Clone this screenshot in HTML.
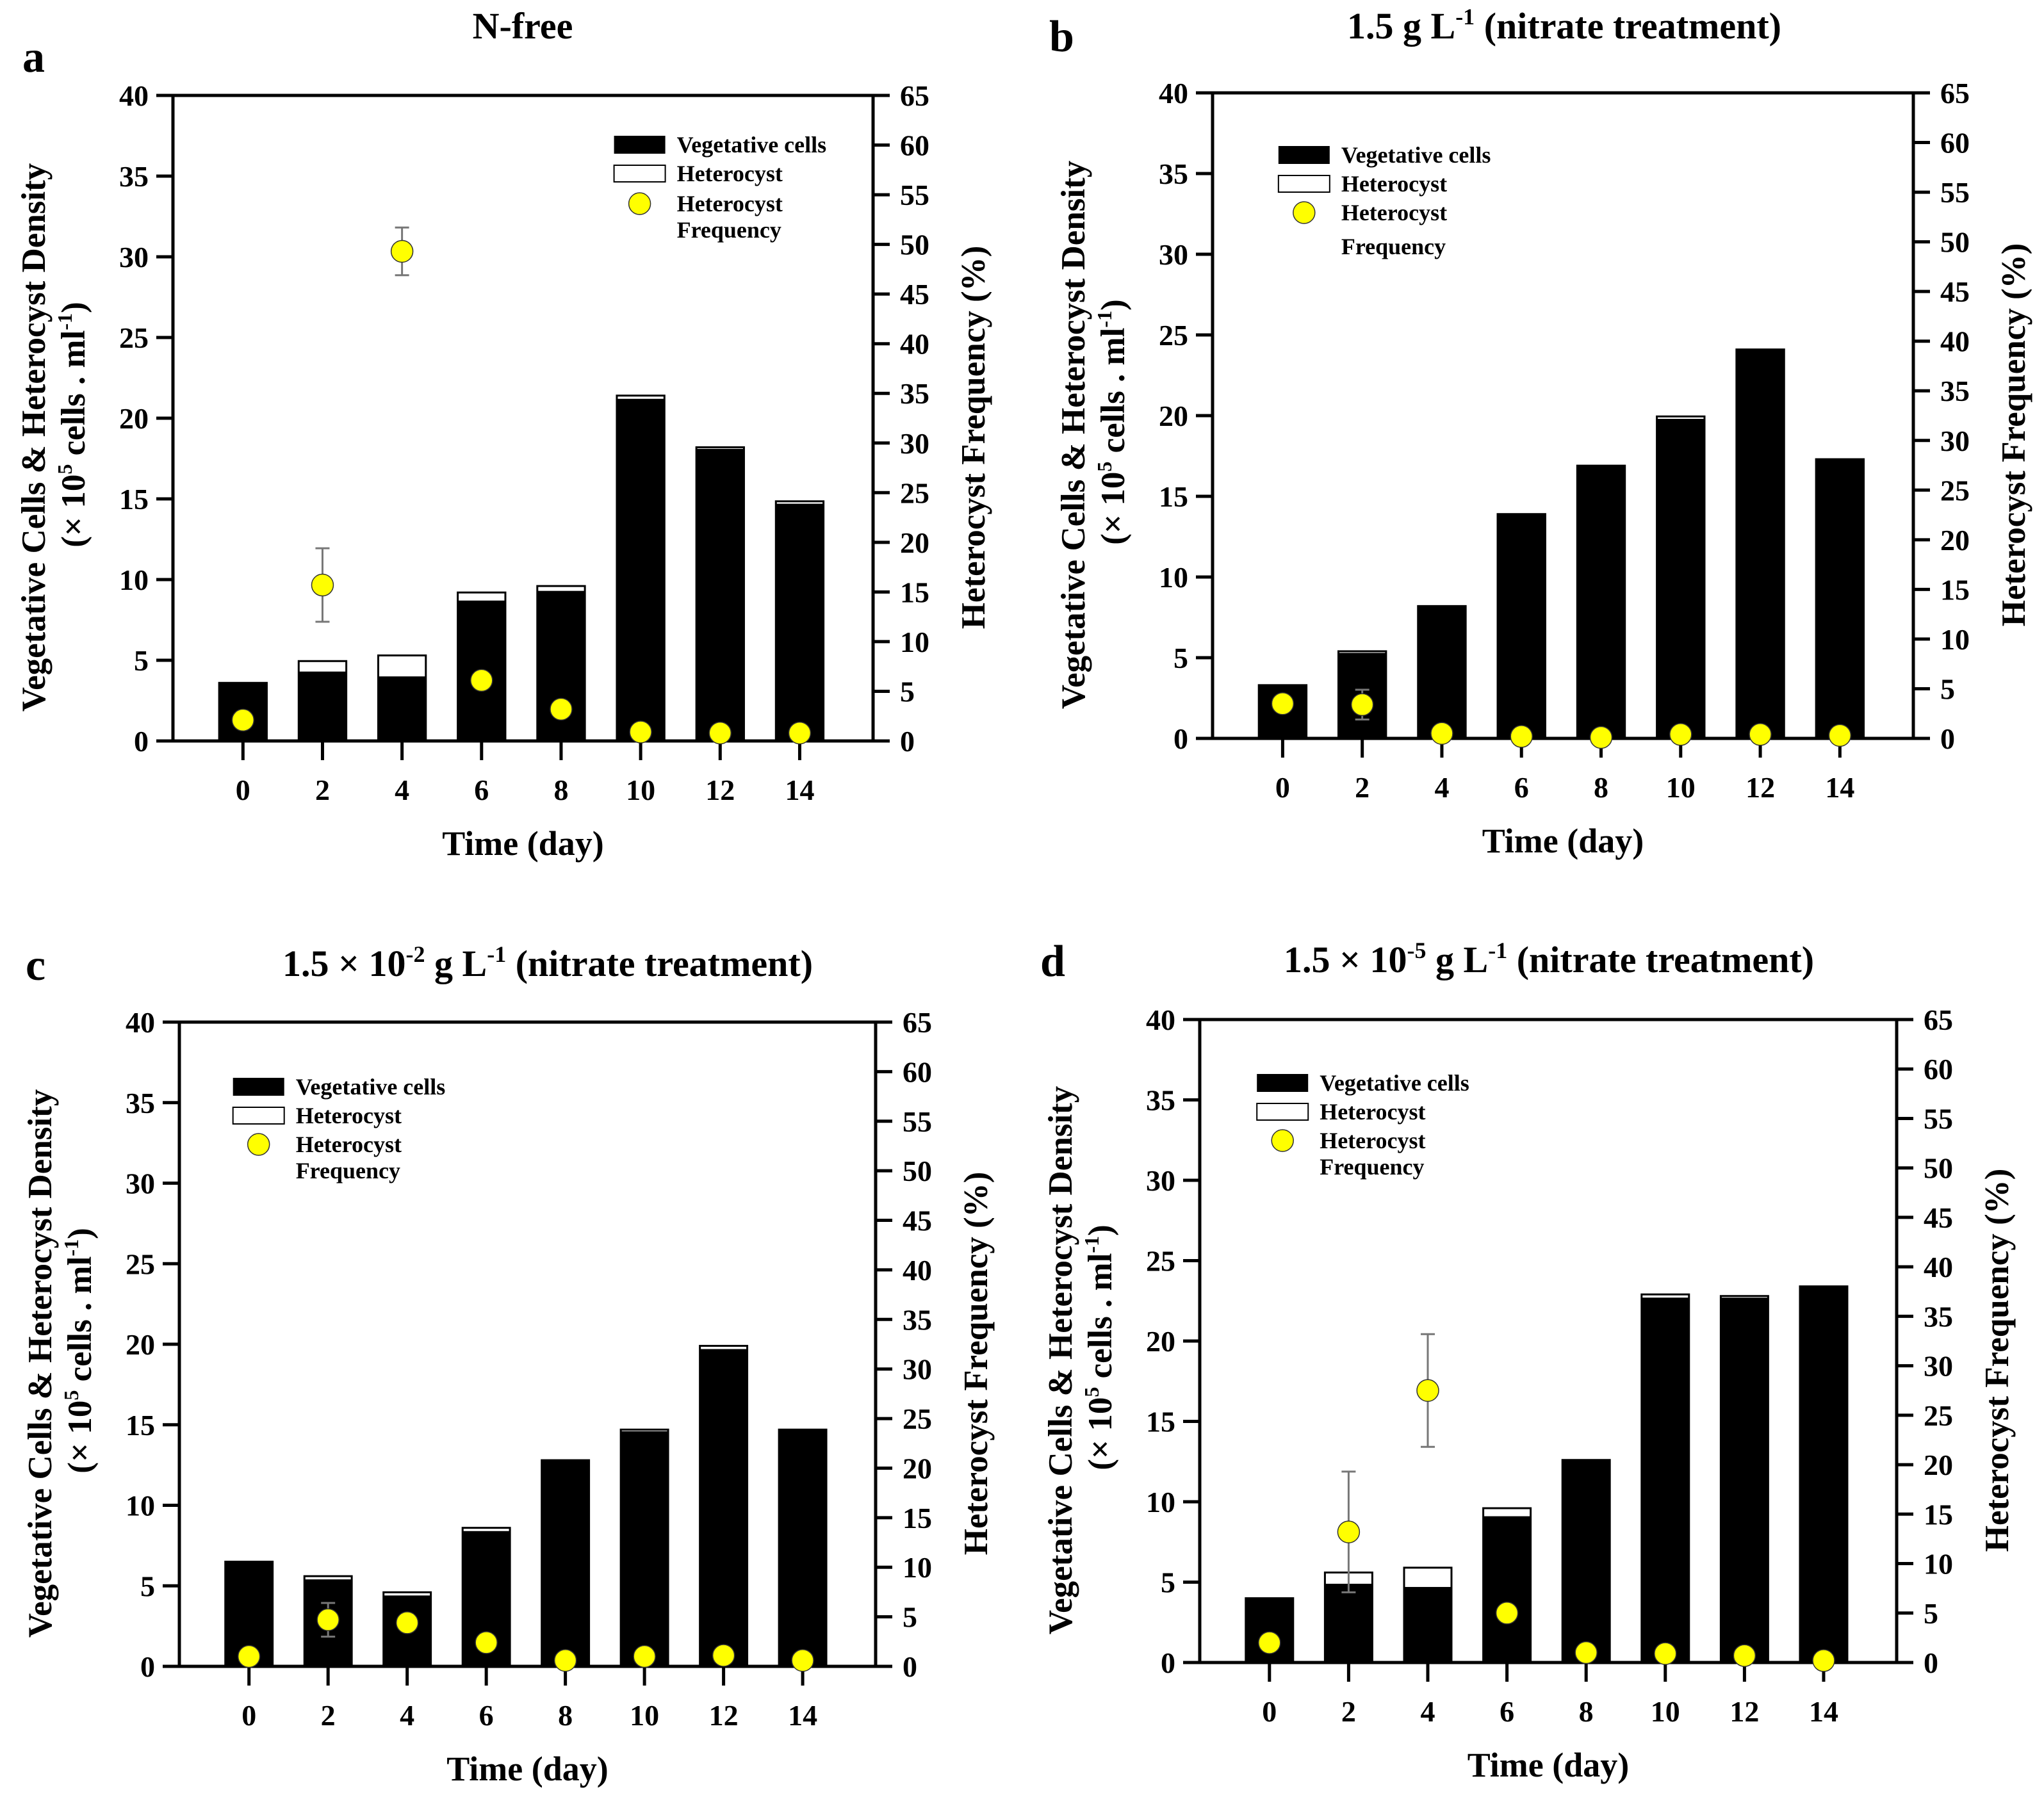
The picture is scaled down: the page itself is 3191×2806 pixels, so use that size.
<!DOCTYPE html>
<html><head><meta charset="utf-8"><style>
html,body{margin:0;padding:0;background:#fff;}
svg{display:block;font-family:"Liberation Serif","Times New Roman",serif;font-weight:bold;}
svg text{font-family:"Liberation Serif","Times New Roman",serif;}
</style></head><body>
<svg id="fig" width="3191" height="2806" viewBox="0 0 3191 2806" xmlns="http://www.w3.org/2000/svg" font-family="Liberation Serif, serif">
</svg>
<script>
const days = [0,2,4,6,8,10,12,14];
const leftTicks = [0,5,10,15,20,25,30,35,40];
const rightTicks = [0,5,10,15,20,25,30,35,40,45,50,55,60,65];
// panel a
const vegA = [3.6,4.3,4.0,8.7,9.3,21.2,18.1,14.7];
const totA = [3.6,4.95,5.3,9.2,9.6,21.4,18.2,14.85];
const freqA = [2.1,15.7,49.3,6.1,3.2,0.9,0.8,0.8];
const errA = [0,3.7,2.4,0.5,0,0,0,0];
// panel b
const vegB = [3.3,5.3,8.2,13.9,16.9,19.8,24.1,17.3];
const totB = [3.3,5.4,8.2,13.9,16.9,19.95,24.1,17.3];
const freqB = [3.5,3.4,0.5,0.2,0.1,0.4,0.4,0.3];
const errB = [0,1.5,0,0,0,0,0,0];
// panel c
const vegC = [6.5,5.4,4.4,8.4,12.8,14.6,19.7,14.7];
const totC = [6.5,5.6,4.6,8.6,12.8,14.7,19.9,14.7];
const freqC = [1.0,4.7,4.4,2.4,0.6,1.0,1.1,0.6];
const errC = [0,1.7,0,0,0,0,0,0];
// panel d
const vegD = [4.0,4.9,4.7,9.1,12.6,22.7,22.7,23.4];
const totD = [4.0,5.6,5.9,9.6,12.6,22.9,22.8,23.4];
const freqD = [2.0,13.2,27.5,5.0,1.0,0.9,0.7,0.2];
const errD = [0,6.1,5.7,0,0,0,0,0];

const NS="http://www.w3.org/2000/svg";
const svg=document.getElementById('fig');
function el(tag,attrs,parent){const e=document.createElementNS(NS,tag);for(const k in attrs)e.setAttribute(k,attrs[k]);(parent||svg).appendChild(e);return e;}

const panels=[
 {id:'a',L:270,T:149,R:1363,B:1157,veg:vegA,tot:totA,freq:freqA,err:errA,letter:[35,112],tx:816,ty:60,legX:0.63,legY:[77,122,169,210]},
 {id:'b',L:1893,T:145,R:2987,B:1153,veg:vegB,tot:totB,freq:freqB,err:errB,letter:[1638,80],tx:2442,ty:60,legX:0.094,legY:[97,142,187,240]},
 {id:'c',L:280,T:1596,R:1367,B:2602,veg:vegC,tot:totC,freq:freqC,err:errC,letter:[40,1530],tx:855,ty:1524,legX:0.077,legY:[101,146,191,232]},
 {id:'d',L:1873,T:1592,R:2961,B:2596,veg:vegD,tot:totD,freq:freqD,err:errD,letter:[1624,1524],tx:2418,ty:1518,legX:0.082,legY:[99,144,189,230]}
];

panels.forEach(p=>{
 const g=el('g',{});
 
 
 const W=p.R-p.L,H=p.B-p.T;
 const yL=v=>p.B-v/40*H;
 const yR=v=>p.B-v/65*H;
 const xC=i=>p.L+W*(0.1+0.1136*i);
 const bw=W*0.068;
 const lt=el('text',{x:p.letter[0],y:p.letter[1],'font-size':70},g);lt.textContent=p.id;
 
 
 const tt=el('text',{x:p.tx,y:p.ty,'font-size':58,'text-anchor':'middle'},g);
 
 
 if(p.id==='a'){tt.textContent='N-free';}
 else{
  let pre='1.5 ',exp=null;
  if(p.id==='c'){pre='1.5 × 10';exp='-2';}
  if(p.id==='d'){pre='1.5 × 10';exp='-5';}
  const a1=el('tspan',{},tt);a1.textContent=pre;
  if(exp){const s=el('tspan',{dy:-22,'font-size':36},tt);s.textContent=exp;const r=el('tspan',{dy:22},tt);r.textContent=' g L';}
  else{const r=el('tspan',{},tt);r.textContent='g L';}
  const s2=el('tspan',{dy:-22,'font-size':36},tt);s2.textContent='-1';
  const r2=el('tspan',{dy:22},tt);r2.textContent=' (nitrate treatment)';
 }
 days.forEach((d,i)=>{
  const x=xC(i)-bw/2;
  const ht=el('rect',{x:x,y:yL(p.tot[i]),width:bw,height:yL(0)-yL(p.tot[i]),fill:'#fff',stroke:'#000','stroke-width':3},g);
  
  
  const vb=el('rect',{x:x,y:yL(p.veg[i]),width:bw,height:yL(0)-yL(p.veg[i]),fill:'#000'},g);
  
  
 });
 el('rect',{x:p.L,y:p.T,width:W,height:H,fill:'none',stroke:'#000','stroke-width':5},g);
 leftTicks.forEach(v=>{
  el('line',{x1:p.L-26,x2:p.L,y1:yL(v),y2:yL(v),stroke:'#000','stroke-width':5},g);
  const t=el('text',{x:p.L-38,y:yL(v)+16,'font-size':46,'text-anchor':'end'},g);t.textContent=v;
  
  
 });
 rightTicks.forEach(v=>{
  el('line',{x1:p.R,x2:p.R+26,y1:yR(v),y2:yR(v),stroke:'#000','stroke-width':5},g);
  const t=el('text',{x:p.R+42,y:yR(v)+16,'font-size':46},g);t.textContent=v;
  
  
 });
 days.forEach((d,i)=>{
  el('line',{x1:xC(i),x2:xC(i),y1:p.B,y2:p.B+30,stroke:'#000','stroke-width':5},g);
  const t=el('text',{x:xC(i),y:p.B+92,'font-size':46,'text-anchor':'middle'},g);t.textContent=d;
  
  
 });
 const xt=el('text',{x:(p.L+p.R)/2,y:p.B+178,'font-size':54,'text-anchor':'middle'},g);xt.textContent='Time (day)';
 
 
 const cy=(p.T+p.B)/2+30;
 const y1=el('text',{x:0,y:0,'font-size':53,'text-anchor':'middle',transform:`translate(${p.L-200},${cy}) rotate(-90)`},g);
 y1.textContent='Vegetative Cells & Heterocyst Density';
 
 
 const y2=el('text',{x:0,y:0,'font-size':53,'text-anchor':'middle',transform:`translate(${p.L-138},${cy-20}) rotate(-90)`},g);
 
 
 const s1=el('tspan',{},y2);s1.textContent='(× 10';
 const s2=el('tspan',{dy:-20,'font-size':32},y2);s2.textContent='5';
 const s3=el('tspan',{dy:20},y2);s3.textContent=' cells . ml';
 const s4=el('tspan',{dy:-20,'font-size':32},y2);s4.textContent='-1';
 const s5=el('tspan',{dy:20},y2);s5.textContent=')';
 const rt=el('text',{x:0,y:0,'font-size':53,'text-anchor':'middle',transform:`translate(${p.R+174},${(p.T+p.B)/2+30}) rotate(-90)`},g);
 rt.textContent='Heterocyst Frequency (%)';
 
 
 days.forEach((d,i)=>{
  if(p.err[i]>0){
   const e1=yR(p.freq[i]+p.err[i]),e2=yR(p.freq[i]-p.err[i]),cx=xC(i);
   el('line',{x1:cx,x2:cx,y1:e1,y2:e2,stroke:'#777','stroke-width':3},g);
   el('line',{x1:cx-11,x2:cx+11,y1:e1,y2:e1,stroke:'#777','stroke-width':3},g);
   el('line',{x1:cx-11,x2:cx+11,y1:e2,y2:e2,stroke:'#777','stroke-width':3},g);
  }
  const c=el('circle',{cx:xC(i),cy:yR(p.freq[i]),r:17,fill:'#ffff00',stroke:'#333','stroke-width':1.5},g);
  
  
 });
 const lx=p.L+W*p.legX, ly=p.T;
 const lg=el('g',{},g);
 
 
 el('rect',{x:lx,y:ly+p.legY[0]-14,width:80,height:28,fill:'#000'},lg);
 el('rect',{x:lx,y:ly+p.legY[1]-13,width:80,height:26,fill:'#fff',stroke:'#000','stroke-width':2},lg);
 el('circle',{cx:lx+40,cy:ly+p.legY[2],r:17,fill:'#ffff00',stroke:'#333','stroke-width':1.5},lg);
 const labels=['Vegetative cells','Heterocyst','Heterocyst','Frequency'];
 labels.forEach((s,k)=>{
  const t=el('text',{x:lx+98,y:ly+p.legY[k]+12,'font-size':36},lg);t.textContent=s;
  
  
 });
});
</script>
</body></html>
